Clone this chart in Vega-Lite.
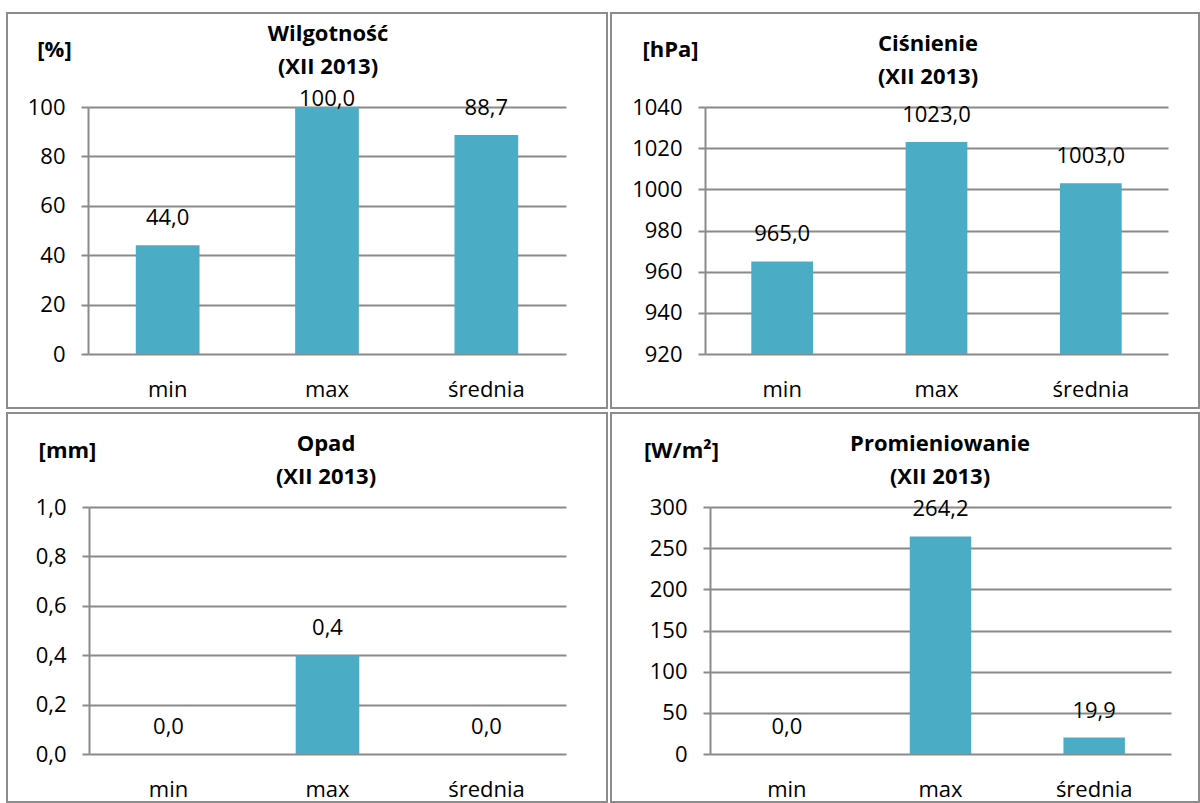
{
  "$schema": "https://vega.github.io/schema/vega-lite/v6.json",
  "background": "white",
  "padding": {"left": 6, "top": 12, "right": 0, "bottom": 0},
  "autosize": {"type": "pad"},
  "datasets": {
    "hum": [{"stat": "min", "v": 44.0}, {"stat": "max", "v": 100.0}, {"stat": "średnia", "v": 88.7}],
    "pres": [{"stat": "min", "v": 965.0}, {"stat": "max", "v": 1023.0}, {"stat": "średnia", "v": 1003.0}],
    "rain": [{"stat": "min", "v": 0.0}, {"stat": "max", "v": 0.4}, {"stat": "średnia", "v": 0.0}],
    "rad": [{"stat": "min", "v": 0.0}, {"stat": "max", "v": 264.2}, {"stat": "średnia", "v": 19.9}]
  },
  "spacing": 3,
  "vconcat": [
    {
      "spacing": 2,
      "hconcat": [
        {
          "width": 600, "height": 395,
          "data": {"name": "hum"},
          "title": {"text": ["Wilgotność", "(XII 2013)"], "offset": -66, "dx": 21},
          "encoding": {
            "x": {"field": "stat", "type": "nominal", "sort": null,
              "scale": {"range": [81, 559], "paddingInner": 0.6, "paddingOuter": 0.3},
              "axis": {"title": null, "offset": -54}},
            "y": {"field": "v", "type": "quantitative",
              "scale": {"domain": [0, 100], "range": [341, 94], "nice": false, "zero": false},
              "axis": {"values": [0, 20, 40, 60, 80, 100], "format": "d", "offset": -81, "title": "[%]", "titleX": -34, "titleY": 36}}
          },
          "layer": [
            {"mark": {"type": "bar"}, "encoding": {"y2": {"datum": 0}}},
            {"mark": {"type": "text", "dy": -27}, "transform": [{"filter": "datum.v < 100"}], "encoding": {"text": {"field": "v", "type": "quantitative", "format": ".1f"}}},
            {"mark": {"type": "text", "dy": -8}, "transform": [{"filter": "datum.v >= 100"}], "encoding": {"text": {"field": "v", "type": "quantitative", "format": ".1f"}}}
          ]
        },
        {
          "width": 588, "height": 395,
          "data": {"name": "pres"},
          "title": {"text": ["Ciśnienie", "(XII 2013)"], "offset": -76, "dx": 23},
          "encoding": {
            "x": {"field": "stat", "type": "nominal", "sort": null,
              "scale": {"range": [94, 557], "paddingInner": 0.6, "paddingOuter": 0.3},
              "axis": {"title": null, "offset": -54}},
            "y": {"field": "v", "type": "quantitative",
              "scale": {"domain": [920, 1040], "range": [341, 94], "nice": false, "zero": false},
              "axis": {"values": [920, 940, 960, 980, 1000, 1020, 1040], "format": "d", "offset": -94, "title": "[hPa]", "titleX": -35, "titleY": 36}}
          },
          "layer": [
            {"mark": {"type": "bar"}, "encoding": {"y2": {"datum": 920}}},
            {"mark": {"type": "text", "dy": -27}, "encoding": {"text": {"field": "v", "type": "quantitative", "format": ".1f"}}}
          ]
        }
      ]
    },
    {
      "spacing": 2,
      "hconcat": [
        {
          "width": 600, "height": 389,
          "data": {"name": "rain"},
          "title": {"text": ["Opad", "(XII 2013)"], "offset": -76, "dx": 19},
          "encoding": {
            "x": {"field": "stat", "type": "nominal", "sort": null,
              "scale": {"range": [82, 559], "paddingInner": 0.6, "paddingOuter": 0.3},
              "axis": {"title": null, "offset": -48}},
            "y": {"field": "v", "type": "quantitative",
              "scale": {"domain": [0, 1], "range": [341, 94], "nice": false, "zero": false},
              "axis": {"values": [0, 0.2, 0.4, 0.6, 0.8, 1.0], "format": ".1f", "offset": -82, "title": "[mm]", "titleX": -22, "titleY": 37}}
          },
          "layer": [
            {"mark": {"type": "bar"}, "encoding": {"y2": {"datum": 0}}},
            {"mark": {"type": "text", "dy": -27}, "encoding": {"text": {"field": "v", "type": "quantitative", "format": ".1f"}}}
          ]
        },
        {
          "width": 588, "height": 389,
          "data": {"name": "rad"},
          "title": {"text": ["Promieniowanie", "(XII 2013)"], "offset": -76, "dx": 35},
          "encoding": {
            "x": {"field": "stat", "type": "nominal", "sort": null,
              "scale": {"range": [99, 560], "paddingInner": 0.6, "paddingOuter": 0.3},
              "axis": {"title": null, "offset": -48}},
            "y": {"field": "v", "type": "quantitative",
              "scale": {"domain": [0, 300], "range": [341, 94], "nice": false, "zero": false},
              "axis": {"values": [0, 50, 100, 150, 200, 250, 300], "format": "d", "offset": -99, "title": "[W/m²]", "titleX": -29, "titleY": 37}}
          },
          "layer": [
            {"mark": {"type": "bar"}, "encoding": {"y2": {"datum": 0}}},
            {"mark": {"type": "text", "dy": -27}, "encoding": {"text": {"field": "v", "type": "quantitative", "format": ".1f"}}}
          ]
        }
      ]
    }
  ],
  "config": {
    "locale": {"number": {"decimal": ",", "thousands": " ", "grouping": [3], "currency": ["", " zł"]}},
    "font": "Open Sans",
    "view": {"stroke": "#8c8c8c", "strokeWidth": 2},
    "axis": {
      "labelFont": "Open Sans", "labelFontSize": 22, "labelColor": "#000000",
      "domainColor": "#8a8a8a", "domainWidth": 2,
      "tickColor": "#8a8a8a", "tickWidth": 2,
      "gridColor": "#8a8a8a", "gridWidth": 2, "gridOpacity": 1,
      "titleFont": "Open Sans", "titleFontSize": 22, "titleFontWeight": "bold", "titleColor": "#000000",
      "titleAngle": 0, "titleAlign": "center", "titleBaseline": "middle"
    },
    "axisY": {"tickSize": 7, "labelPadding": 16, "grid": true},
    "axisX": {"ticks": false, "tickSize": 0, "domain": false, "grid": false, "labelAngle": 0, "labelPadding": 25, "labelBaseline": "top"},
    "title": {"font": "Open Sans", "fontSize": 22, "fontWeight": "bold", "color": "#000000", "lineHeight": 33, "anchor": "middle", "frame": "group"},
    "text": {"font": "Open Sans", "fontSize": 22, "color": "#000000", "baseline": "middle"},
    "bar": {"color": "#4BACC6"}
  }
}
